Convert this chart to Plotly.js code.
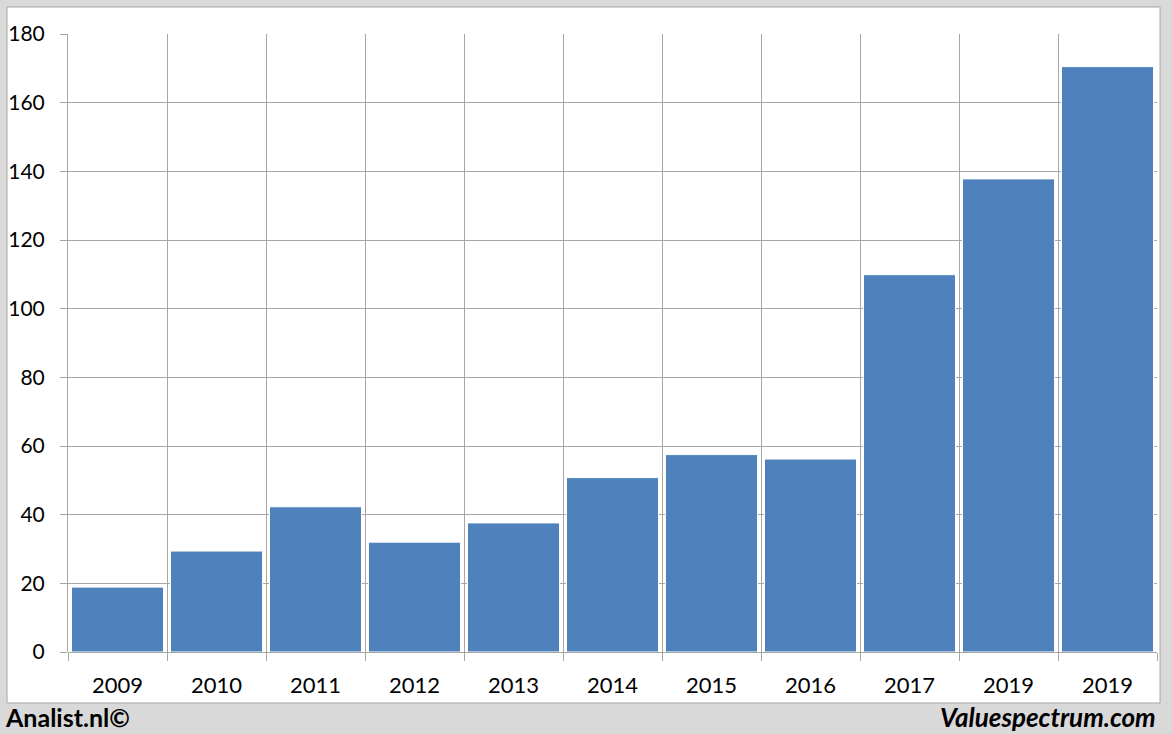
<!DOCTYPE html>
<html>
<head>
<meta charset="utf-8">
<script src="https://cdn.plot.ly/plotly-3.0.1.min.js"></script>
<style>html,body{margin:0;padding:0;background:#d9d9d9;}#chart{width:1172px;height:734px;}</style>
</head>
<body>
<div id="chart"></div>
<script>
const labels = ["2009","2010","2011","2012","2013","2014","2015","2016","2017","2019","2019"];
const values = [18.9, 29.4, 42.3, 32.0, 37.6, 50.8, 57.5, 56.2, 109.9, 137.8, 170.5];

const idx = labels.map((_, i) => i);
const bounds = labels.map((_, i) => i - 0.5).concat([labels.length - 0.5]);
const gridCol = "#a6a6a6";
const font = "Lato, 'Open Sans', sans-serif";

const trace = {
  type: "bar",
  x: idx,
  y: values,
  marker: {color: "#4f81bd", line: {color: "#ffffff", width: 1}},
  width: 0.93,
  hoverinfo: "skip"
};

const layout = {
  width: 1172, height: 734,
  margin: {l: 68, r: 15, t: 34, b: 82},
  paper_bgcolor: "#d9d9d9",
  plot_bgcolor: "rgba(0,0,0,0)",
  showlegend: false,
  font: {family: font, size: 20, color: "#000"},
  xaxis: {
    range: [-0.5, labels.length - 0.5],
    tickmode: "array", tickvals: idx, ticktext: labels,
    showgrid: false, ticks: "", showline: false, zeroline: false,
    tickfont: {family: font, size: 22, color: "#000"},
    ticklabelstandoff: 18,
    fixedrange: true
  },
  xaxis2: {
    overlaying: "x", matches: "x",
    range: [-0.5, labels.length - 0.5],
    tickmode: "array", tickvals: bounds,
    showticklabels: false, showgrid: true, gridcolor: gridCol, gridwidth: 1,
    ticks: "outside", ticklen: 8, tickcolor: gridCol, zeroline: false, showline: false
  },
  yaxis: {
    range: [0, 180], tickmode: "linear", tick0: 0, dtick: 20,
    showgrid: true, gridcolor: gridCol, gridwidth: 1,
    ticks: "outside", ticklen: 7, tickcolor: gridCol,
    showline: true, linecolor: gridCol, zeroline: true, zerolinecolor: gridCol,
    tickfont: {family: font, size: 21, color: "#000"},
    ticklabelstandoff: 11,
    fixedrange: true
  },
  shapes: [{
    type: "rect", xref: "paper", yref: "paper", layer: "below",
    x0: -0.056, x1: 1.0028, y0: -0.0825, y1: 1.0437,
    fillcolor: "#ffffff", line: {color: "#a6a6a6", width: 1}
  }],
  annotations: [
    {xref: "paper", yref: "paper", x: -0.0595, y: -0.105, xanchor: "left", yanchor: "middle",
     text: "<b>Analist.nl©</b>", showarrow: false, font: {family: font, size: 25, color: "#000"}},
    {xref: "paper", yref: "paper", x: 1.001, y: -0.105, xanchor: "right", yanchor: "middle",
     text: "<b><i>Valuespectrum.com</i></b>", showarrow: false, font: {family: font, size: 26, color: "#000"}}
  ]
};

const dummy = {type: "scatter", x: [0], y: [0], xaxis: "x2", mode: "markers", marker: {opacity: 0}, hoverinfo: "skip"};

Plotly.newPlot("chart", [dummy, trace], layout, {staticPlot: true});
</script>
</body>
</html>
